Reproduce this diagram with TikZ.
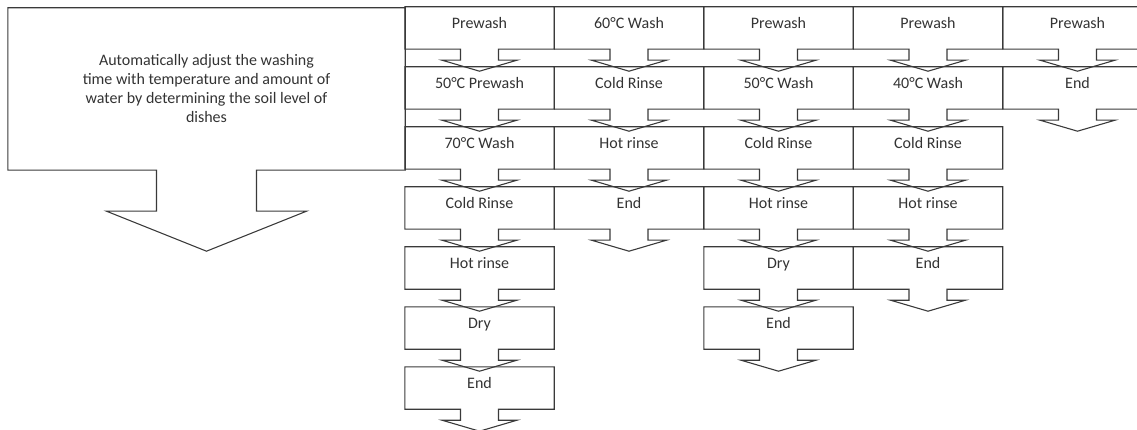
\documentclass[tikz,border=0pt]{standalone}
\usepackage{fontspec}
\setmainfont{Carlito}
\begin{document}
\begin{tikzpicture}[x=1pt,y=1pt,font=\fontsize{16}{19}\selectfont]
  \definecolor{ink}{HTML}{3A3A3A}
  \definecolor{txt}{HTML}{333333}
  \tikzset{
    cell/.style={minimum width=149pt,minimum height=42pt,inner sep=0pt,
      text height=11pt,text depth=9.4pt,text=txt},
    outline/.style={ink,line width=1.1pt,line join=miter}
  }
  \clip (0,0) rectangle (1137,-430);
  \path[use as bounding box] (0,0) rectangle (1137,-430);
  \node[minimum width=397pt,minimum height=162pt,inner sep=0pt,align=center,text=txt]
    (intro) at (206.5,-89) {Automatically adjust the washing\\time with temperature and amount of\\water by determining the soil level of\\dishes};
  \draw[outline] (intro.south west) -- (intro.north west) -- (intro.north east) -- (intro.south east)
    -- ([xshift=50pt]intro.south) -- ++(0,-41) -- ++(50,0) -- ([yshift=-81pt]intro.south)
    -- ([xshift=-100pt,yshift=-41pt]intro.south) -- ++(50,0) -- ([xshift=-50pt]intro.south) -- cycle;
  \foreach \col/\row/\lab in {0/0/Prewash,0/1/{50°C Prewash},0/2/{70°C Wash},0/3/{Cold Rinse},
      0/4/{Hot rinse},0/5/Dry,0/6/End,
      1/0/{60°C Wash},1/1/{Cold Rinse},1/2/{Hot rinse},1/3/End,
      2/0/Prewash,2/1/{50°C Wash},2/2/{Cold Rinse},2/3/{Hot rinse},2/4/Dry,2/5/End,
      3/0/Prewash,3/1/{40°C Wash},3/2/{Cold Rinse},3/3/{Hot rinse},3/4/End,
      4/0/Prewash,4/1/End}{
    \node[cell] (s\col\row) at (479.5+149.5*\col,-28-60*\row) {\lab};
    \draw[outline] (s\col\row.south west) -- (s\col\row.north west) -- (s\col\row.north east)
      -- (s\col\row.south east) -- ([xshift=19pt]s\col\row.south) -- ++(0,-11) -- ++(18.5,0)
      -- ([yshift=-22pt]s\col\row.south) -- ([xshift=-37.5pt,yshift=-11pt]s\col\row.south)
      -- ++(18.5,0) -- ([xshift=-19pt]s\col\row.south) -- cycle;
  }
\end{tikzpicture}
\end{document}
